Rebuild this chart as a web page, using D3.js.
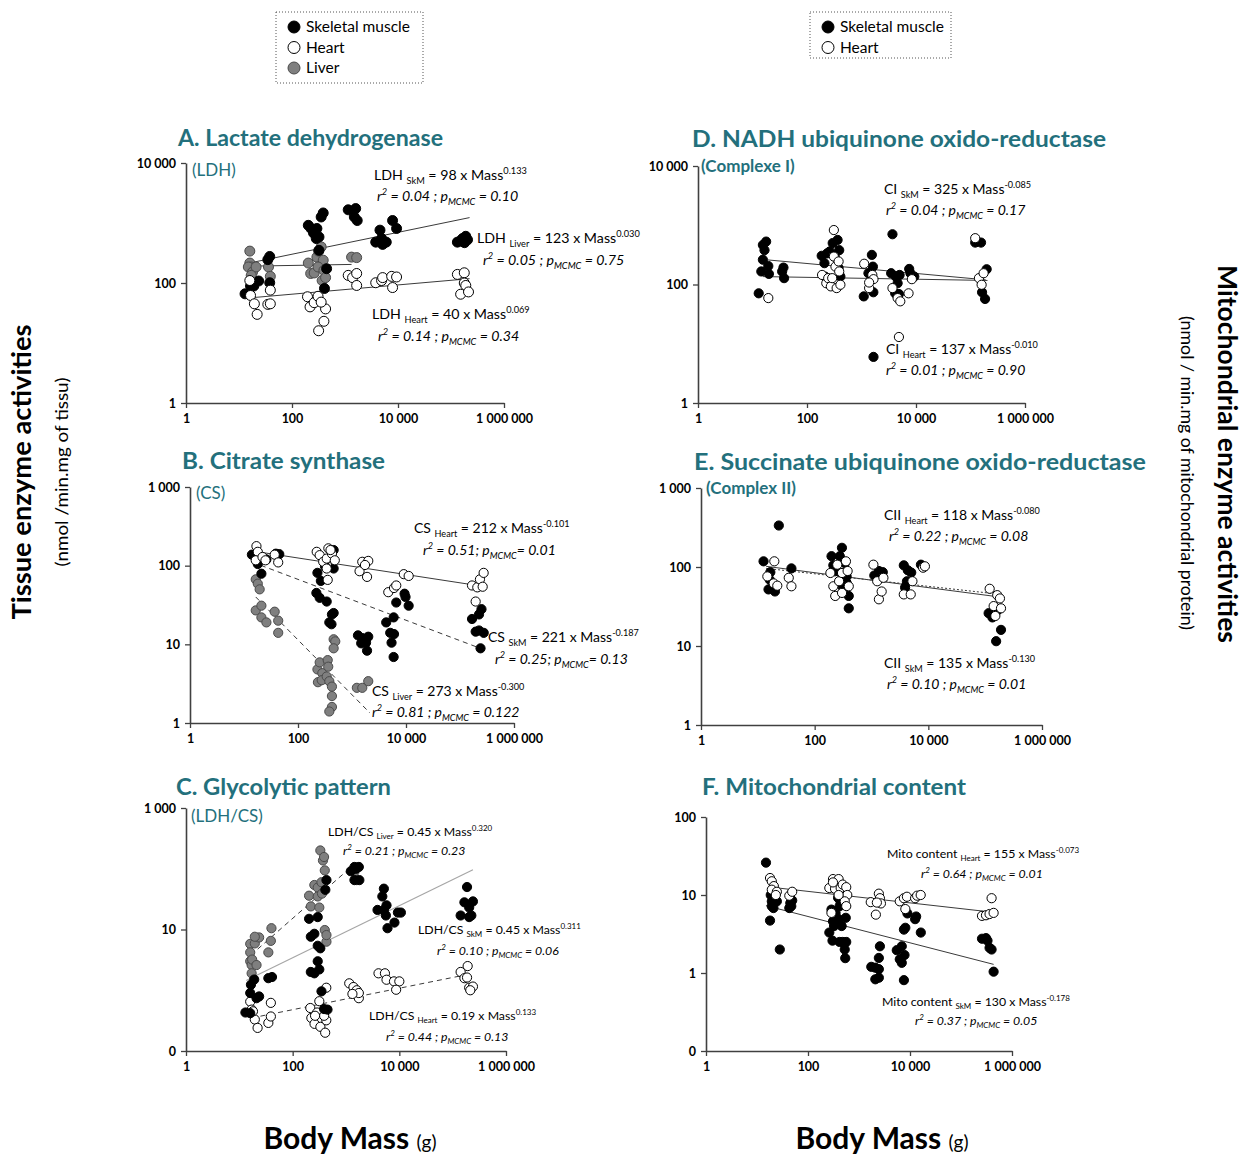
<!DOCTYPE html>
<html><head><meta charset="utf-8">
<script src="https://cdn.jsdelivr.net/npm/d3@7"></script>
<style>body{margin:0;background:#fff} svg{display:block}</style>
</head><body><svg id="c" width="1245" height="1155"></svg>
<script>
// ---------------- DATA (mass in g, activity) ----------------
const massTicks = [1, 100, 10000, 1000000];
const massTickLabels = ["1", "100", "10 000", "1 000 000"];

// A. LDH
const ldhSkM = [[13,66],[16.5,89],[19,89],[23.5,108],[35,245],[38,277],[38,101],
 [203,915],[229,810],[255,680],[295,810],[287,550],[323,585],[355,1260],[388,1470],[323,350],[450,173],[410,81],
 [1150,1660],[1590,1740],[1500,1260],[1700,1100],
 [4570,760],[4900,550],[3800,480],[5130,440],[6000,480],[7900,1100],[9400,810],
 [132000,480],[165000,550],[190000,600],[205000,525],[150000,500],[180000,470]];
const ldhLiver = [[16,340],[16,215],[17,185],[15,185],[18,152],[21,185],[17,134],[36,185],[39,129],
 [203,215],[225,144],[262,147],[295,270],[318,340],[355,400],[388,240],[310,185],[400,162],[370,110],[430,123],
 [1330,270],[1660,265]];
const ldhHeart = [[16,110],[16.5,62],[19.5,45],[22,30],[35,44],[39,45],[39,76],
 [196,59],[219,40],[262,47],[310,60],[318,16],[400,23],[430,37],[355,48],
 [1150,134],[1390,123],[1660,91],[1660,144],
 [3800,101],[4900,110],[5130,123],[7900,84],[7600,129],[9400,126],
 [132000,139],[178000,148],[152000,65],[178000,100],[190000,91],[214000,71]];
const ldhFitSkM = [[19.5,224],[224000,1230]];
const ldhFitLiver = [[17,191],[1330,204]];
const ldhFitHeart = [[18,57],[224000,118]];

// B. CS
const csHeart = [[17,177],[18,150],[16.5,117],[22,129],[25,117],[37,138],[43,110],
 [222,150],[252,136],[293,112],[340,123],[365,166],[425,142],[480,117],[340,92],[355,66],[400,158],
 [1380,85],[1550,112],[2000,115],[1900,72],[1740,102],
 [4700,46],[6000,52],[6600,56],[9100,78],[11200,74],
 [167000,56],[209000,53],[234000,67],[274000,81],[263000,54],[195000,35]];
const csSkM = [[14,138],[18,105],[21,79],[26,120],[39,142],[45,140],
 [229,81],[265,64],[316,98],[457,158],[457,92],
 [219,45],[252,39],[340,35],[380,19],[425,24],[457,25],[417,18],
 [1290,13],[1550,12],[2000,12.5],[1820,10.5],[1900,8.3],[1480,10.3],
 [4300,19],[5100,14],[5400,10.5],[5900,6.9],[6000,13.5],[5900,22],[6600,34],[9400,44],[9800,40],[11200,31],
 [167000,21],[225000,24],[250000,28],[195000,14.5],[225000,15],[275000,14],[240000,8.9]];
const csLiver = [[16.5,67],[18,59],[19.5,50],[16.5,27],[21,31],[21,22],[26,19],[37,26],[43,20],[43,14],
 [229,4.8],[234,3.3],[252,5.9],[282,4.3],[275,3.5],[340,3.9],[355,6.3],[363,5.2],[380,3.4],[425,2.9],[425,2.2],[425,1.6],[380,1.4],[457,11.6],[490,10.9],[457,8.9],
 [1230,2.8],[1550,2.8],[2000,3.4]];
const csFitHeart = [[18,150],[209000,56]];
const csFitSkM = [[20.5,101],[209000,9.2]];
const csFitLiver = [[16.5,40],[2150,1.34]];

// C. LDH/CS
const gcLiver = [[16,5.8],[16,4.2],[16,3.0],[17,2.6],[17,1.9],[17.4,3.2],[19.5,5.9],[21,2.6],[23.5,7.4],[19.5,7.6],[35,4.2],[40,10.5],[39,6.5],
 [203,36],[219,24],[255,54],[295,49],[316,23],[330,200],[370,137],[400,94],[388,156],[347,60],[295,35],[400,9.8],[430,6.3],[430,8.1],[355,39],
 [1440,89],[1590,65]];
const gcSkM = [[13,0.43],[16,0.42],[16,0.9],[16.5,1.23],[19,1.5],[21,0.74],[23.5,0.79],[35,1.58],[41,1.65],
 [203,15],[295,16],[219,7.6],[255,8.5],[295,5.4],[330,4.9],[219,2.0],[255,1.9],[295,3.0],[316,2.2],[347,0.96],[410,45],[430,65],[388,0.49],[450,0.48],
 [1230,91],[1440,107],[1550,100],[1740,107],[1440,65],[1780,65],
 [5130,47],[4800,35],[3900,21],[5750,25],[5130,21],[5600,17],[6000,10.5],[8100,13],[9400,19],[10700,19],
 [186000,50],[166000,28],[204000,23],[240000,29],[141000,17],[204000,16],[224000,17]];
const gcHeart = [[16,0.65],[17,0.48],[19.5,0.33],[22,0.24],[18,0.45],[35,0.29],[39,0.62],[39,0.37],
 [214,0.51],[224,0.35],[257,0.28],[288,0.43],[316,0.66],[331,0.25],[407,0.2],[427,1.1],[427,0.32],[389,0.38],[263,0.38],
 [1150,1.3],[1380,1.13],[1590,1.0],[1740,0.74],[1740,0.9],[1320,0.87],
 [4070,1.9],[5370,1.9],[5750,1.49],[7940,1.4],[10000,1.4],[8710,1.02],
 [141000,2.0],[191000,2.5],[166000,1.58],[186000,1.62],[204000,1.1],[240000,1.15],[214000,1.0]];
const gcFitLiver = [[16.5,3.8],[1330,112]];
const gcFitSkM = [[13.5,1.45],[240000,96]];
const gcFitHeart = [[17,0.35],[224000,1.87]];

// D. Complex I
const ciSkM = [[13,71],[14.5,166],[15.5,262],[16.6,380],[17.8,530],[15.5,465],[19.5,205],[20,151],[35,166],[37,193],[38,128],
 [186,305],[209,229],[234,335],[262,362],[296,500],[323,295],[364,565],[390,380],[380,189],[410,136],[214,136],
 [1100,63],[1340,155],[1550,316],[1620,200],[1650,74],[1660,6],
 [3700,705],[3500,155],[4250,136],[4600,105],[5000,145],[4150,71],[4860,69],[7500,183],[7900,155],[9300,136],
 [122000,510],[156000,510],[198000,181],[163000,74],[185000,57]];
const ciHeart = [[19.5,59],[189,145],[226,105],[245,128],[274,93],[311,830],[311,296],[333,200],[350,87],[380,245],[390,166],[410,99],[290,128],
 [1120,224],[1380,87],[1580,145],[1660,123],[1380,108],
 [3700,87],[4600,59],[5150,52],[4860,13],[7300,71],[8400,123],
 [122000,605],[143000,128],[160000,99],[174000,155]];
const ciFitSkM = [[19,260],[190000,120]];
const ciFitHeart = [[15.5,136],[205000,117]];

// E. Complex II
const ciiSkM = [[12.6,118],[16.6,86],[16.2,69],[15.4,52],[20,49],[23.4,335],[39,96],
 [198,137],[213,105],[250,89],[277,137],[302,175],[340,112],[365,76],[315,55],[398,43],[398,30],[365,63],
 [1120,78],[1350,89],[1580,86],[1480,75],
 [3700,105],[4350,91],[5000,85],[4200,66],[3900,55],[7400,107],
 [115000,26],[134000,23],[163000,28],[156000,11.5],[190000,16]];
const ciiHeart = [[14.7,76],[19,62],[22,58],[19.5,118],[35,73],[39,57],
 [189,84],[213,57],[230,43],[269,66],[303,84],[303,47],[355,118],[380,89],[398,57],[250,107],
 [1080,107],[1260,66],[1350,39],[1510,49],[1620,73],
 [3700,45],[4900,45],[5250,66],[8100,98],[8700,102],
 [120000,53],[141000,32],[163000,44],[182000,40],[190000,30],[151000,24]];
const ciiFitHeart = [[14,102],[190000,41.5]];
const ciiFitSkM = [[14,96],[190000,45]];

// F. Mitochondrial content
const mitoSkM = [[15,26],[18,4.7],[18.6,10],[19.5,8.3],[19.5,7.2],[22.4,8.1],[21,6.8],[24.5,8.3],[28,2.0],[43,6.8],[45,7.9],[49,8.5],[47,7.2],
 [262,3.3],[288,6.5],[309,4.6],[302,2.6],[324,4.0],[347,5.9],[389,9.2],[398,4.9],[417,2.5],[457,4.0],[479,2.5],[525,2.0],[537,1.55],[550,5.1],[562,2.5],[437,7.9],[417,7.2],
 [1740,1.2],[2090,0.83],[2450,0.87],[2450,1.12],[2570,2.2],[2450,1.56],[2090,1.17],
 [5500,1.96],[6900,2.2],[6300,1.5],[6900,1.35],[7600,0.81],[7800,1.7],[7600,3.6],[8100,3.8],[8900,5.8],[12600,4.9],[13200,5.3],[16300,3.3],
 [258000,2.75],[309000,2.8],[331000,2.6],[363000,2.1],[398000,2.0],[436000,1.04]];
const mitoHeart = [[18,16.5],[19.5,15],[21.4,13],[19.5,11.7],[24.5,11],[23.4,10],[43,9.8],[49,11],
 [262,12.3],[309,16],[339,12],[398,16],[437,12.3],[479,13.6],[562,12.6],[589,10],[525,8.3],[562,7.2],[398,10],[288,5.9],[309,14.5],
 [1700,8.1],[2140,5.6],[2450,10.4],[2570,9.1],[2690,7.8],[2240,8],
 [6300,8.3],[7600,9.1],[8700,9.5],[8100,6.6],[12600,9.1],[13800,9.8],[16200,10],
 [258000,5.4],[309000,5.5],[363000,5.7],[398000,9.1],[436000,5.9]];
const mitoFitHeart = [[16.6,12.7],[436000,6.0]];
const mitoFitSkM = [[15,7.3],[436000,1.29]];

// Texts
const titles = ["A. Lactate dehydrogenase","B. Citrate synthase","C. Glycolytic pattern",
  "D. NADH ubiquinone oxido-reductase","E. Succinate ubiquinone oxido-reductase","F. Mitochondrial content"];
const subtitles = ["(LDH)","(CS)","(LDH/CS)","(Complexe I)","(Complex II)",""];
const eqA = ["LDH _SkM_ = 98 x Mass^0.133^","r^2^ = 0.04 ; p_MCMC_ = 0.10",
  "LDH _Liver_ = 123 x Mass^0.030^","r^2^ = 0.05 ; p_MCMC_ = 0.75",
  "LDH _Heart_ = 40 x Mass^0.069^","r^2^ = 0.14 ; p_MCMC_ = 0.34"];
const eqB = ["CS _Heart_ = 212 x Mass^-0.101^","r^2^ = 0.51; p_MCMC_= 0.01",
  "CS _SkM_ = 221 x Mass^-0.187^","r^2^ = 0.25; p_MCMC_= 0.13",
  "CS _Liver_ = 273 x Mass^-0.300^","r^2^ = 0.81 ; p_MCMC_ = 0.122"];
const eqC = ["LDH/CS _Liver_ = 0.45 x Mass^0.320^","r^2^ = 0.21 ; p_MCMC_ = 0.23",
  "LDH/CS _SkM_ = 0.45 x Mass^0.311^","r^2^ = 0.10 ; p_MCMC_ = 0.06",
  "LDH/CS _Heart_ = 0.19 x Mass^0.133^","r^2^ = 0.44 ; p_MCMC_ = 0.13"];
const eqD = ["CI _SkM_ = 325 x Mass^-0.085^","r^2^ = 0.04 ; p_MCMC_ = 0.17",
  "CI _Heart_ = 137 x Mass^-0.010^","r^2^ = 0.01 ;   p_MCMC_ = 0.90"];
const eqE = ["CII _Heart_  = 118 x Mass^-0.080^","r^2^ = 0.22 ; p_MCMC_ = 0.08",
  "CII _SkM_ = 135 x Mass^-0.130^","r^2^ = 0.10 ; p_MCMC_ = 0.01"];
const eqF = ["Mito content _Heart_ = 155 x Mass^-0.073^","r^2^ = 0.64 ; p_MCMC_ = 0.01",
  "Mito content _SkM_  = 130 x Mass^-0.178^","r^2^ = 0.37 ; p_MCMC_ = 0.05"];

// ---------------- DRAWING ----------------
const svg = d3.select("#c");
const FONT = "Lato, 'Open Sans', sans-serif";
const TEAL = "#23707c";
const AX = "#404040";
const style = {
  skm: {fill:"#000", stroke:"#000"},
  heart: {fill:"#fff", stroke:"#000"},
  liver: {fill:"#7f7f7f", stroke:"#4a4a4a"}
};

const panels = [
 {title:0, tx:178, ty:146, tw:265, sx:192, sy:176, subBold:false,
  x0:186, x1:504, yTop:163, yBot:403, yDom:[1,1e4], yT:[1,100,1e4], yL:["1","100","10 000"], r:5,
  series:[[ldhLiver,"liver"],[ldhSkM,"skm"],[ldhHeart,"heart"]],
  fits:[[ldhFitSkM,"solid"],[ldhFitLiver,"solid"],[ldhFitHeart,"solid"]],
  eq:eqA, eqPos:[[374,180],[377,201],[477,243],[483,265],[372,319],[378,341]], eqSize:14.2},
 {title:1, tx:182, ty:469, tw:203, sx:196, sy:499, subBold:false,
  x0:190, x1:514, yTop:487, yBot:723, yDom:[1,1000], yT:[1,10,100,1000], yL:["1","10","100","1 000"], r:4.6,
  series:[[csLiver,"liver"],[csSkM,"skm"],[csHeart,"heart"]],
  fits:[[csFitHeart,"solid"],[csFitSkM,"dash"],[csFitLiver,"dash"]],
  eq:eqB, eqPos:[[414,533],[423,555],[488,642],[495,664],[372,696],[372,717]], eqSize:14},
 {title:2, tx:176, ty:795, tw:215, sx:191, sy:822, subBold:false,
  x0:186, x1:506, yTop:808, yBot:1051, yDom:[0.1,1000], yT:[0.1,10,1000], yL:["0","10","1 000"], r:4.6,
  series:[[gcHeart,"heart"],[gcLiver,"liver"],[gcSkM,"skm"]],
  fits:[[gcFitLiver,"dash"],[gcFitSkM,"light"],[gcFitHeart,"dash"]],
  eq:eqC, eqPos:[[328,836],[343,855],[418,934],[437,955],[369,1020],[386,1041]], eqSize:12.3},
 {title:3, tx:692, ty:147, tw:414, sx:701, sy:172, subBold:true,
  x0:698, x1:1025, yTop:166, yBot:403, yDom:[1,1e4], yT:[1,100,1e4], yL:["1","100","10 000"], r:4.6,
  series:[[ciSkM,"skm"],[ciHeart,"heart"]],
  fits:[[ciFitSkM,"solid"],[ciFitHeart,"solid"]],
  eq:eqD, eqPos:[[884,194],[886,215],[886,354],[886,375]], eqSize:14},
 {title:4, tx:694, ty:470, tw:452, sx:706, sy:494, subBold:true,
  x0:701, x1:1042, yTop:488, yBot:725, yDom:[1,1000], yT:[1,10,100,1000], yL:["1","10","100","1 000"], r:4.6,
  series:[[ciiSkM,"skm"],[ciiHeart,"heart"]],
  fits:[[ciiFitHeart,"solid"],[ciiFitSkM,"dot"]],
  eq:eqE, eqPos:[[884,520],[889,541],[884,668],[887,689]], eqSize:14},
 {title:5, tx:702, ty:795, tw:264, sx:0, sy:0, subBold:false,
  x0:706, x1:1012, yTop:817, yBot:1051, yDom:[0.1,100], yT:[0.1,1,10,100], yL:["0","1","10","100"], r:4.6,
  series:[[mitoSkM,"skm"],[mitoHeart,"heart"]],
  fits:[[mitoFitHeart,"solid"],[mitoFitSkM,"solid"]],
  eq:eqF, eqPos:[[887,858],[921,878],[882,1006],[915,1025]], eqSize:12.3}
];

// rich text: _sub_ and ^sup^
function rich(g, x, y, str, size, italic) {
  const t = g.append("text").attr("x", x).attr("y", y)
    .attr("font-family", FONT).attr("font-size", size).attr("fill", "#000")
    .attr("font-style", italic ? "italic" : null);
  const parts = str.split(/(_[^_]*_|\^[^\^]*\^)/).filter(s => s.length);
  let shift = 0;
  parts.forEach(p => {
    let kind = "n", txt = p;
    if (p[0] === "_" && p.endsWith("_")) { kind = "sub"; txt = p.slice(1, -1); }
    else if (p[0] === "^" && p.endsWith("^")) { kind = "sup"; txt = p.slice(1, -1); }
    const target = kind === "sub" ? size * 0.28 : kind === "sup" ? -size * 0.4 : 0;
    const ts = t.append("tspan").attr("dy", target - shift).text(txt);
    if (kind !== "n") ts.attr("font-size", size * 0.65);
    shift = target;
  });
}

panels.forEach(p => {
  const g = svg.append("g");
  const x = d3.scaleLog().domain([1, 1e6]).range([p.x0, p.x1]);
  const y = d3.scaleLog().domain(p.yDom).range([p.yBot, p.yTop]);

  // title
  g.append("text").attr("x", p.tx).attr("y", p.ty).attr("font-family", FONT)
    .attr("font-size", 23).attr("font-weight", 700).attr("fill", TEAL)
    .attr("textLength", p.tw).attr("lengthAdjust", "spacingAndGlyphs").text(titles[p.title]);
  if (subtitles[p.title]) g.append("text").attr("x", p.sx).attr("y", p.sy).attr("font-family", FONT)
    .attr("font-size", 17).attr("font-weight", p.subBold ? 700 : 400).attr("fill", TEAL).text(subtitles[p.title]);

  // axes
  const xa = g.append("g").attr("transform", `translate(0,${p.yBot})`)
    .call(d3.axisBottom(x).tickValues(massTicks).tickFormat((d, i) => massTickLabels[i]).tickSize(5).tickSizeOuter(0).tickPadding(6));
  const ya = g.append("g").attr("transform", `translate(${p.x0},0)`)
    .call(d3.axisLeft(y).tickValues(p.yT).tickFormat((d, i) => p.yL[i]).tickSize(5).tickSizeOuter(0).tickPadding(5));
  [xa, ya].forEach(a => {
    a.selectAll("path.domain").attr("stroke", AX).attr("stroke-width", 1.6);
    a.selectAll(".tick line").attr("stroke", AX).attr("stroke-width", 1.3);
    a.selectAll(".tick text").attr("font-family", FONT).attr("font-size", 12.5).attr("font-weight", 700).attr("fill", "#000");
  });

  // fit lines
  const line = d3.line().x(d => x(d[0])).y(d => y(d[1]));
  p.fits.forEach(([d, s]) => {
    g.append("path").datum(d).attr("d", line).attr("fill", "none")
      .attr("stroke", s === "light" ? "#a6a6a6" : "#3a3a3a")
      .attr("stroke-width", s === "light" ? 1.2 : 1)
      .attr("stroke-dasharray", s === "dash" ? "5,4" : s === "dot" ? "2,2" : null);
  });

  // points
  p.series.forEach(([d, k]) => {
    g.append("g").selectAll("circle").data(d).join("circle")
      .attr("cx", e => x(e[0])).attr("cy", e => y(e[1])).attr("r", p.r)
      .attr("fill", style[k].fill).attr("stroke", style[k].stroke).attr("stroke-width", 1);
  });

  // equations
  p.eq.forEach((s, i) => rich(g, p.eqPos[i][0], p.eqPos[i][1], s, p.eqSize, i % 2 === 1));
});

// legends
function legend(x, y, w, h, items) {
  const g = svg.append("g");
  g.append("rect").attr("x", x).attr("y", y).attr("width", w).attr("height", h)
    .attr("fill", "none").attr("stroke", "#555").attr("stroke-width", 1).attr("stroke-dasharray", "1,2");
  items.forEach((it, i) => {
    const cy = y + 15 + i * 20.5;
    g.append("circle").attr("cx", x + 18).attr("cy", cy).attr("r", 6)
      .attr("fill", style[it[1]].fill).attr("stroke", style[it[1]].stroke).attr("stroke-width", 1);
    g.append("text").attr("x", x + 30).attr("y", cy + 5).attr("font-family", FONT)
      .attr("font-size", 15.5).attr("fill", "#000").text(it[0]);
  });
}
legend(276, 12, 147, 71, [["Skeletal muscle","skm"],["Heart","heart"],["Liver","liver"]]);
legend(810, 12, 141, 46, [["Skeletal muscle","skm"],["Heart","heart"]]);

// axis titles
function vtext(tx, ty, rot, size, bold, len, str) {
  svg.append("text").attr("transform", `translate(${tx},${ty}) rotate(${rot})`).attr("text-anchor", "middle")
    .attr("font-family", FONT).attr("font-size", size).attr("font-weight", bold ? 700 : 400)
    .attr("textLength", len).attr("lengthAdjust", "spacingAndGlyphs").text(str);
}
vtext(31, 472, -90, 26, true, 295, "Tissue enzyme activities");
vtext(68, 472, -90, 17, false, 189, "(nmol /min.mg of tissu)");
vtext(1218, 454, 90, 26, true, 378, "Mitochondrial enzyme activities");
vtext(1181, 473, 90, 17, false, 314, "(nmol / min.mg of mitochondrial protein)");

[[350, 1149], [882, 1149]].forEach(([cx, cy]) => {
  const t = svg.append("text").attr("x", cx).attr("y", cy).attr("text-anchor", "middle").attr("font-family", FONT);
  t.append("tspan").attr("font-size", 30).attr("font-weight", 700).text("Body Mass ");
  t.append("tspan").attr("font-size", 19).text("(g)");
});
</script></body></html>
